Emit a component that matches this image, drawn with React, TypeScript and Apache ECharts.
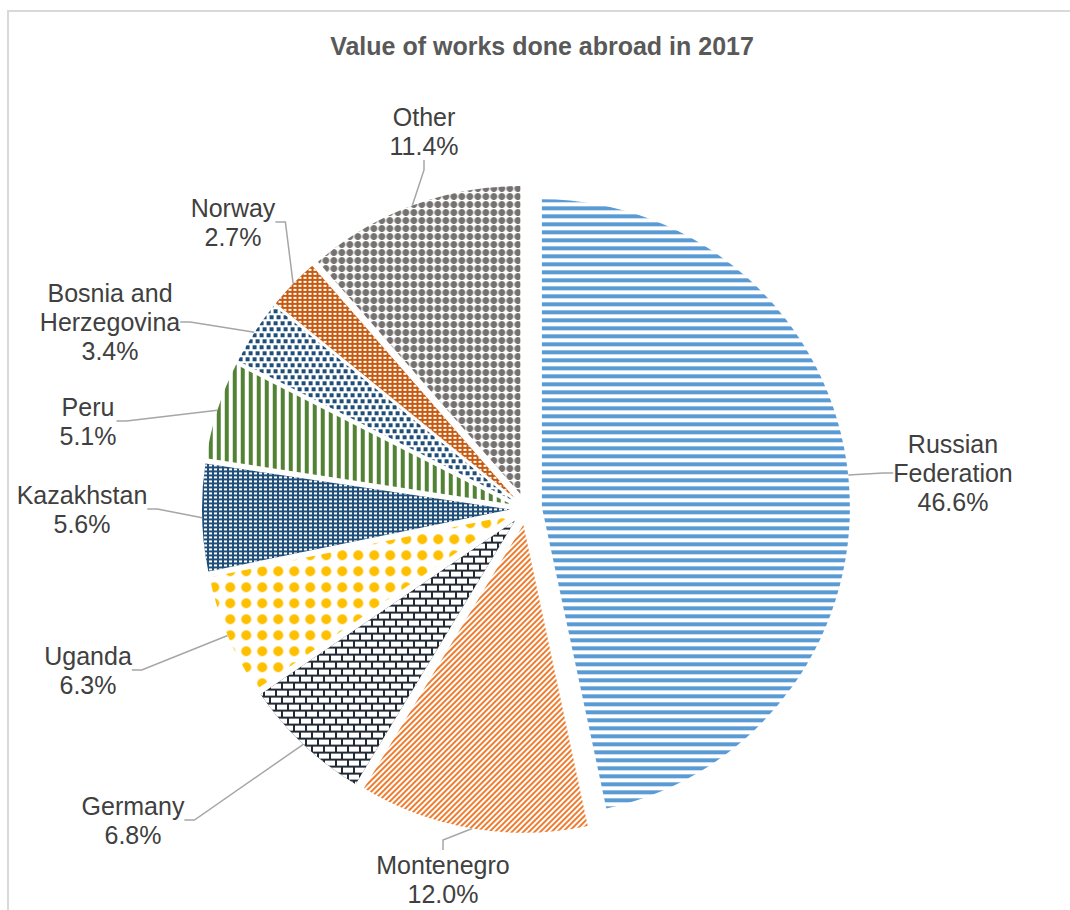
import React, { useEffect, useRef } from "react";
import * as echarts from "echarts";

const categories = [
  "Russian Federation",
  "Montenegro",
  "Germany",
  "Uganda",
  "Kazakhstan",
  "Peru",
  "Bosnia and Herzegovina",
  "Norway",
  "Other",
];
const shares = [46.6, 12.0, 6.8, 6.3, 5.6, 5.1, 3.4, 2.7, 11.4];
const labelBreaks = [
  "Russian\nFederation",
  "Montenegro",
  "Germany",
  "Uganda",
  "Kazakhstan",
  "Peru",
  "Bosnia and\nHerzegovina",
  "Norway",
  "Other",
];
const titleText = "Value of works done abroad in 2017";

// label centres (layout, not data)
const labelPos: [number, number][] = [
  [953, 473],
  [443, 879],
  [133, 820],
  [88, 670],
  [82, 509],
  [88, 421],
  [110, 322],
  [233, 222],
  [424, 131],
];

const PIE_CENTER = [526, 509];
const PIE_RADIUS = 308;
const EXPLODE = 16;

const sliceStyles: any[] = [
  {
    color: "#ffffff",
    decal: { symbol: "rect", symbolSize: 1, color: "#5B9BD5", dashArrayX: [8, 0], dashArrayY: [4, 4] },
  },
  {
    color: "#ffffff",
    decal: { symbol: "rect", symbolSize: 1, color: "#ED7D31", dashArrayX: [8, 0], dashArrayY: [2, 1.6], rotation: -Math.PI / 4 },
  },
  {
    color: "#222A35",
    decal: { symbol: "rect", symbolSize: 1, color: "#ffffff", dashArrayX: [[10, 2], [4, 2, 6, 0]], dashArrayY: [4.5, 1.8] },
  },
  {
    color: "#ffffff",
    decal: { symbol: "circle", symbolSize: 1, color: "#FFC000", dashArrayX: [10, 6], dashArrayY: [10, 6] },
  },
  {
    color: "#1F4E79",
    decal: { symbol: "rect", symbolSize: 1, color: "#ffffff", dashArrayX: [3, 1.7], dashArrayY: [1.6, 1.7] },
  },
  {
    color: "#ffffff",
    decal: { symbol: "rect", symbolSize: 1, color: "#548235", dashArrayX: [3.5, 4], dashArrayY: [8, 0] },
  },
  {
    color: "#ffffff",
    decal: { symbol: "rect", symbolSize: 1, color: "#1F4E79", dashArrayX: [[3.4, 2.6], [0, 3, 3.4, 0]], dashArrayY: [3.2, 2] },
  },
  {
    color: "#C55A11",
    decal: { symbol: "rect", symbolSize: 1, color: "#ffffff", dashArrayX: [3, 1.7], dashArrayY: [1.6, 1.7] },
  },
  {
    color: "#ffffff",
    decal: { symbol: "circle", symbolSize: 1, color: "#767171", dashArrayX: [6.2, 0.6], dashArrayY: [6.2, 0.6] },
  },
];

export default function App() {
  const ref = useRef<HTMLDivElement>(null);
  useEffect(() => {
    if (!ref.current) return;
    const chart = echarts.init(ref.current, null, { renderer: "svg" });
    const sliceData = categories.map((name, i) => ({
      name,
      value: shares[i],
      selected: true,
      itemStyle: { ...sliceStyles[i], borderWidth: 0 },
    }));
    const labelData = categories.map((name, i) => ({ name, value: shares[i] }));
    chart.setOption({
      animation: false,
      backgroundColor: "#ffffff",
      graphic: [
        { type: "line", shape: { x1: 8, y1: 11, x2: 1070, y2: 11 }, style: { stroke: "#D9D9D9", lineWidth: 2 } },
        { type: "line", shape: { x1: 8, y1: 10, x2: 8, y2: 910 }, style: { stroke: "#D9D9D9", lineWidth: 2 } },
        {
          type: "text",
          x: 542,
          y: 46,
          style: {
            text: titleText,
            align: "center",
            verticalAlign: "middle",
            fill: "#595959",
            font: "bold 25px 'Liberation Sans', Arial, sans-serif",
          },
        },
      ],
      series: [
        {
          type: "pie",
          center: PIE_CENTER,
          radius: PIE_RADIUS,
          startAngle: 90,
          clockwise: true,
          selectedMode: "multiple",
          selectedOffset: EXPLODE,
          silent: true,
          emphasis: { disabled: true },
          label: { show: false },
          labelLine: { show: false },
          data: sliceData,
        },
        {
          // transparent twin at the exploded radius, carrying the data labels
          type: "pie",
          center: PIE_CENTER,
          radius: PIE_RADIUS + EXPLODE,
          startAngle: 90,
          clockwise: true,
          silent: true,
          avoidLabelOverlap: false,
          emphasis: { disabled: true },
          itemStyle: { color: "rgba(255,255,255,0)", borderWidth: 0 },
          data: labelData,
          label: {
            show: true,
            position: "outside",
            color: "#404040",
            fontFamily: "'Liberation Sans', Arial, sans-serif",
            fontSize: 25,
            lineHeight: 29,
            formatter: (p: any) => labelBreaks[p.dataIndex] + "\n" + Number(p.value).toFixed(1) + "%",
          },
          labelLine: {
            show: true,
            length: 20,
            length2: 10,
            lineStyle: { color: "#A6A6A6", width: 1.5 },
          },
          labelLayout: (params: any) => {
            const pos = labelPos[params.dataIndex];
            return { x: pos[0], y: pos[1], align: "center", verticalAlign: "middle" };
          },
        },
      ],
    });
    return () => chart.dispose();
  }, []);
  return (
    <div
      ref={ref}
      style={{ position: "absolute", left: 0, top: 0, width: 1070, height: 910 }}
    />
  );
}
